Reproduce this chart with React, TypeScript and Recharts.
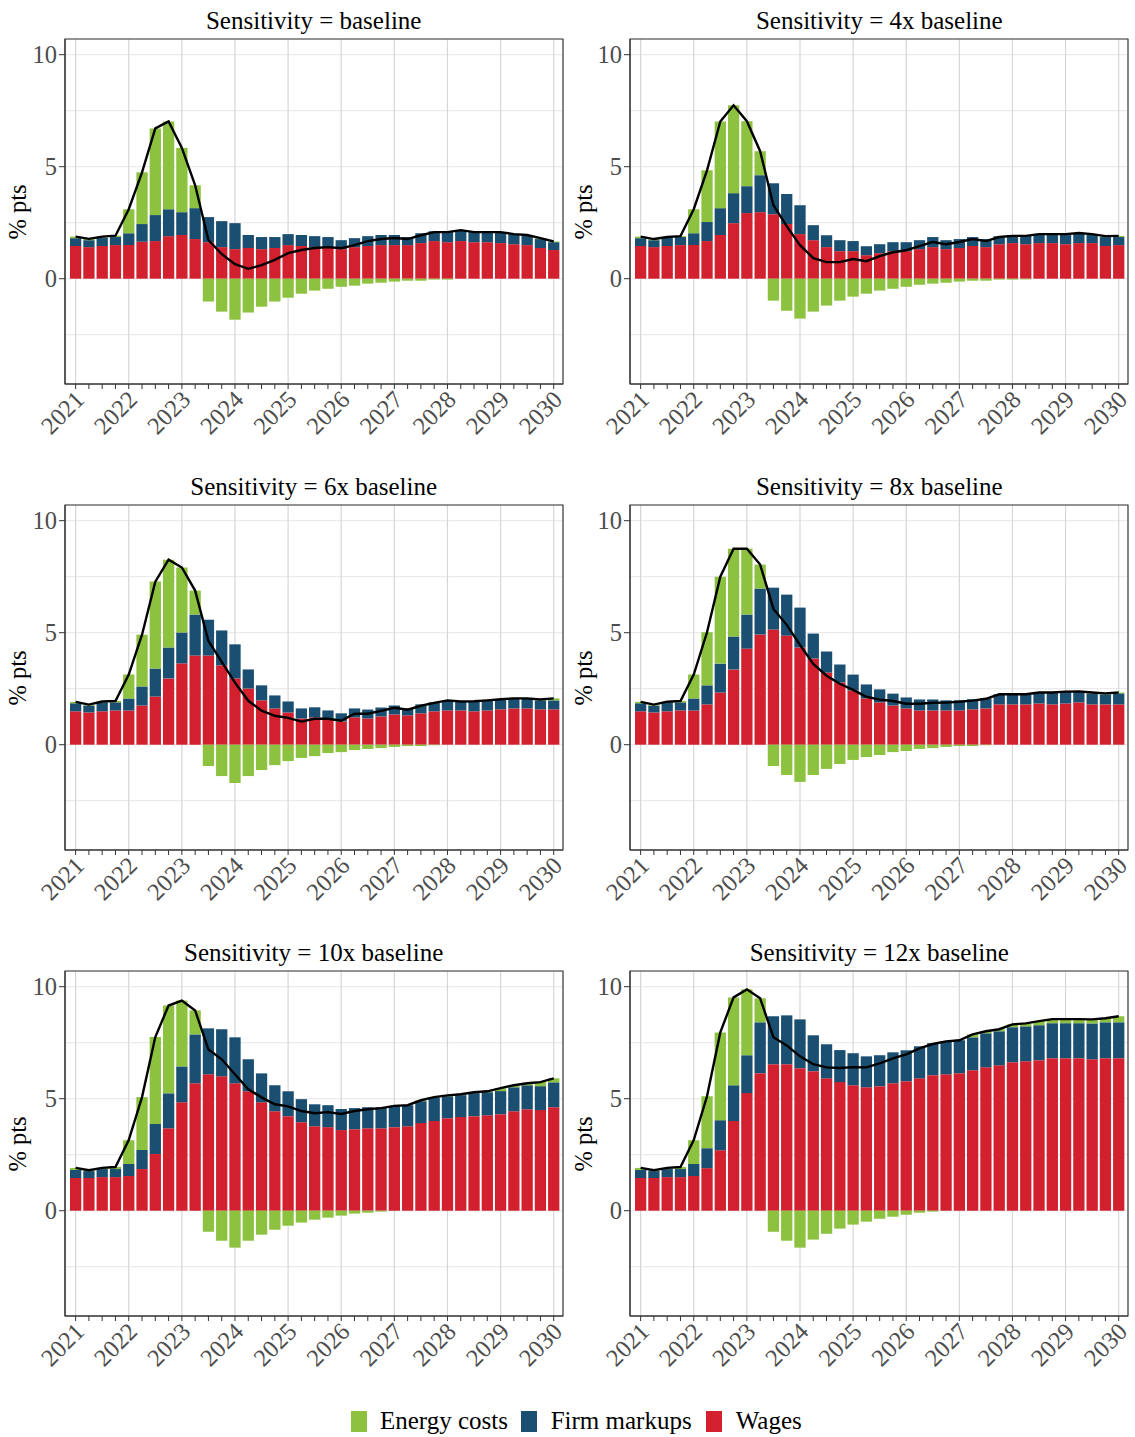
import React from "react";
import {
  Bar,
  CartesianGrid,
  ComposedChart,
  Line,
  ReferenceArea,
  XAxis,
  YAxis,
} from "recharts";

const quarters = [
  "2021Q1", "2021Q2", "2021Q3", "2021Q4", "2022Q1", "2022Q2", "2022Q3", "2022Q4",
  "2023Q1", "2023Q2", "2023Q3", "2023Q4", "2024Q1", "2024Q2", "2024Q3", "2024Q4",
  "2025Q1", "2025Q2", "2025Q3", "2025Q4", "2026Q1", "2026Q2", "2026Q3", "2026Q4",
  "2027Q1", "2027Q2", "2027Q3", "2027Q4", "2028Q1", "2028Q2", "2028Q3", "2028Q4",
  "2029Q1", "2029Q2", "2029Q3", "2029Q4", "2030Q1",
];

// baseline
const wagesBase = [1.46, 1.41, 1.46, 1.5, 1.5, 1.65, 1.68, 1.9, 1.95, 1.77, 1.63, 1.41, 1.32, 1.37, 1.32, 1.37, 1.5, 1.46, 1.41, 1.41, 1.32, 1.41, 1.46, 1.5, 1.5, 1.5, 1.59, 1.68, 1.63, 1.68, 1.63, 1.63, 1.59, 1.54, 1.5, 1.37, 1.28];
const markupsBase = [0.35, 0.31, 0.37, 0.36, 0.53, 0.79, 1.16, 1.2, 1.02, 1.38, 1.12, 1.16, 1.16, 0.58, 0.54, 0.49, 0.49, 0.49, 0.49, 0.45, 0.4, 0.4, 0.44, 0.45, 0.45, 0.36, 0.44, 0.44, 0.49, 0.49, 0.45, 0.45, 0.49, 0.45, 0.45, 0.4, 0.35];
const energyBase = [0.07, 0.06, 0.05, 0.06, 1.07, 2.31, 3.87, 3.92, 2.87, 1.02, -1.02, -1.47, -1.83, -1.51, -1.25, -1.02, -0.85, -0.67, -0.53, -0.45, -0.36, -0.31, -0.22, -0.18, -0.13, -0.09, -0.09, -0.04, -0.04, 0, 0, 0, 0, 0, 0, 0.04, 0.03];

// 4x
const wages4x = [1.46, 1.41, 1.46, 1.5, 1.5, 1.68, 1.95, 2.48, 2.93, 2.97, 2.88, 2.44, 1.99, 1.72, 1.41, 1.23, 1.23, 1.05, 1.14, 1.23, 1.23, 1.32, 1.41, 1.32, 1.37, 1.46, 1.41, 1.54, 1.59, 1.54, 1.59, 1.59, 1.54, 1.59, 1.59, 1.46, 1.5];
const markups4x = [0.35, 0.31, 0.36, 0.36, 0.53, 0.85, 1.2, 1.34, 1.2, 1.65, 1.38, 1.34, 1.29, 0.67, 0.53, 0.49, 0.45, 0.4, 0.4, 0.4, 0.4, 0.4, 0.45, 0.4, 0.4, 0.4, 0.36, 0.36, 0.36, 0.4, 0.4, 0.4, 0.45, 0.45, 0.4, 0.4, 0.36];
const energy4x = [0.07, 0.05, 0.04, 0.04, 1.07, 2.31, 3.87, 3.92, 2.9, 1.07, -0.98, -1.43, -1.78, -1.47, -1.2, -0.98, -0.8, -0.67, -0.53, -0.45, -0.36, -0.27, -0.22, -0.18, -0.13, -0.09, -0.09, -0.04, -0.04, -0.03, 0, 0, 0, 0, 0, 0.04, 0.05];

// 6x
const wages6x = [1.49, 1.44, 1.49, 1.53, 1.53, 1.75, 2.15, 2.96, 3.63, 3.98, 3.98, 3.54, 2.96, 2.51, 1.98, 1.62, 1.44, 1.17, 1.22, 1.13, 1.04, 1.22, 1.17, 1.26, 1.35, 1.31, 1.4, 1.49, 1.53, 1.53, 1.49, 1.53, 1.58, 1.62, 1.62, 1.58, 1.58];
const markups6x = [0.36, 0.31, 0.4, 0.36, 0.53, 0.85, 1.25, 1.38, 1.38, 1.83, 1.6, 1.56, 1.52, 0.85, 0.67, 0.58, 0.49, 0.45, 0.45, 0.4, 0.36, 0.4, 0.4, 0.4, 0.4, 0.31, 0.4, 0.4, 0.45, 0.4, 0.45, 0.45, 0.45, 0.45, 0.45, 0.4, 0.4];
const energy6x = [0.06, 0.04, 0.04, 0.06, 1.07, 2.31, 3.88, 3.92, 2.9, 1.07, -0.95, -1.4, -1.71, -1.4, -1.13, -0.91, -0.73, -0.59, -0.51, -0.37, -0.33, -0.24, -0.19, -0.15, -0.1, -0.06, -0.06, -0.02, 0, 0, 0, 0, 0, 0, 0, 0.04, 0.09];

// 8x
const wages8x = [1.49, 1.44, 1.49, 1.53, 1.53, 1.8, 2.33, 3.36, 4.29, 4.92, 5.14, 4.87, 4.34, 3.85, 3.22, 2.78, 2.42, 2.07, 1.89, 1.75, 1.62, 1.53, 1.53, 1.53, 1.53, 1.58, 1.62, 1.8, 1.8, 1.8, 1.84, 1.8, 1.84, 1.89, 1.8, 1.8, 1.8];
const markups8x = [0.36, 0.31, 0.4, 0.36, 0.53, 0.85, 1.29, 1.47, 1.52, 2.05, 1.87, 1.83, 1.78, 1.11, 0.94, 0.8, 0.71, 0.62, 0.58, 0.53, 0.49, 0.49, 0.49, 0.45, 0.45, 0.45, 0.45, 0.45, 0.45, 0.45, 0.49, 0.53, 0.53, 0.49, 0.49, 0.45, 0.49];
const energy8x = [0.06, 0.04, 0.03, 0.06, 1.07, 2.37, 3.88, 3.92, 2.94, 1.07, -0.95, -1.35, -1.66, -1.35, -1.08, -0.86, -0.68, -0.55, -0.46, -0.33, -0.28, -0.19, -0.15, -0.1, -0.06, -0.06, -0.02, 0, 0, 0, 0, 0, 0, 0, 0.04, 0.04, 0.04];

// 10x
const wages10x = [1.46, 1.46, 1.5, 1.5, 1.55, 1.86, 2.53, 3.68, 4.84, 5.69, 6.09, 6.0, 5.69, 5.33, 4.84, 4.44, 4.22, 3.95, 3.77, 3.73, 3.6, 3.64, 3.68, 3.68, 3.73, 3.77, 3.91, 4.0, 4.13, 4.18, 4.22, 4.26, 4.31, 4.44, 4.53, 4.49, 4.62];
const markups10x = [0.36, 0.31, 0.36, 0.36, 0.53, 0.85, 1.34, 1.56, 1.6, 2.18, 2.05, 2.1, 2.05, 1.43, 1.29, 1.16, 1.11, 1.03, 0.98, 0.98, 0.94, 0.94, 0.94, 0.94, 0.94, 0.94, 0.98, 1.03, 0.98, 0.98, 1.03, 1.03, 1.03, 1.07, 1.07, 1.07, 1.11];
const energy10x = [0.09, 0.04, 0.05, 0.09, 1.07, 2.36, 3.88, 3.92, 2.94, 1.07, -0.94, -1.34, -1.65, -1.34, -1.07, -0.85, -0.67, -0.53, -0.4, -0.31, -0.22, -0.13, -0.09, -0.04, 0.01, 0, 0.04, 0.04, 0.04, 0.04, 0.04, 0.04, 0.13, 0.09, 0.09, 0.18, 0.18];

// 12x
const wages12x = [1.46, 1.46, 1.5, 1.5, 1.55, 1.9, 2.7, 4.0, 5.25, 6.14, 6.54, 6.54, 6.36, 6.23, 5.91, 5.74, 5.6, 5.51, 5.56, 5.69, 5.78, 5.91, 6.05, 6.09, 6.14, 6.27, 6.4, 6.49, 6.63, 6.67, 6.72, 6.81, 6.81, 6.81, 6.76, 6.81, 6.81];
const markups12x = [0.36, 0.31, 0.36, 0.36, 0.53, 0.89, 1.34, 1.6, 1.69, 2.27, 2.14, 2.18, 2.18, 1.6, 1.52, 1.43, 1.43, 1.38, 1.38, 1.38, 1.38, 1.43, 1.43, 1.47, 1.47, 1.47, 1.52, 1.52, 1.56, 1.56, 1.56, 1.56, 1.56, 1.56, 1.6, 1.6, 1.6];
const energy12x = [0.09, 0.04, 0.05, 0.09, 1.07, 2.32, 3.92, 3.92, 2.94, 1.07, -0.94, -1.34, -1.65, -1.29, -1.03, -0.8, -0.62, -0.49, -0.36, -0.27, -0.18, -0.09, -0.04, 0, 0, 0.13, 0.09, 0.09, 0.13, 0.13, 0.18, 0.18, 0.18, 0.18, 0.18, 0.18, 0.27];

const panelTitles = [
  "Sensitivity = baseline",
  "Sensitivity = 4x baseline",
  "Sensitivity = 6x baseline",
  "Sensitivity = 8x baseline",
  "Sensitivity = 10x baseline",
  "Sensitivity = 12x baseline",
];

const yTicks = [0, 5, 10];
const yGridTicks = [-2.5, 0, 2.5, 5, 7.5, 10];

const GREEN = "#8cc23f";
const BLUE = "#1b4f72";
const RED = "#d2202f";
const FONT = "'Liberation Serif', 'Times New Roman', serif";

const panels = [
  { title: panelTitles[0], wages: wagesBase, markups: markupsBase, energy: energyBase },
  { title: panelTitles[1], wages: wages4x, markups: markups4x, energy: energy4x },
  { title: panelTitles[2], wages: wages6x, markups: markups6x, energy: energy6x },
  { title: panelTitles[3], wages: wages8x, markups: markups8x, energy: energy8x },
  { title: panelTitles[4], wages: wages10x, markups: markups10x, energy: energy10x },
  { title: panelTitles[5], wages: wages12x, markups: markups12x, energy: energy12x },
];

const PLOT_W = 498;
const PLOT_H = 345;
const COL_X = [64.7, 630.3];
const ROW_Y = [39.3, 505.3, 971];
const X_DOMAIN: [number, number] = [-0.8, 36.7];
const Y_DOMAIN: [number, number] = [-4.7, 10.7];

const qIdx = quarters.map((_, i) => i);
const yearIdx = qIdx.filter((i) => i % 4 === 0);

function XTick(props: any) {
  const { x, y, payload } = props;
  const i = payload.value;
  if (i % 4 !== 0) return null;
  const ax = x + 10;
  const ay = y + 12;
  return (
    <text
      x={ax}
      y={ay}
      transform={`rotate(-45, ${ax}, ${ay})`}
      textAnchor="end"
      fontSize={24.5}
      fill="#4d4d4d"
      fontFamily={FONT}
    >
      {quarters[i].slice(0, 4)}
    </text>
  );
}

function Panel({ p, left, top }: { p: (typeof panels)[number]; left: number; top: number }) {
  const rows = quarters.map((q, i) => ({
    i,
    q,
    wages: p.wages[i],
    markups: p.markups[i],
    energy: p.energy[i],
    total: p.wages[i] + p.markups[i] + p.energy[i],
  }));

  return (
    <>
      <div
        style={{
          position: "absolute",
          left,
          top: top - 31,
          width: PLOT_W,
          textAlign: "center",
          fontSize: 25,
          lineHeight: "25px",
          fontFamily: FONT,
          color: "#000",
          whiteSpace: "nowrap",
        }}
      >
        {p.title}
      </div>
      <div
        style={{
          position: "absolute",
          left: left - 46.7 - 50,
          top: top + PLOT_H / 2 - 15,
          width: 100,
          height: 30,
          lineHeight: "30px",
          textAlign: "center",
          fontSize: 24.5,
          fontFamily: FONT,
          transform: "rotate(-90deg)",
        }}
      >
        % pts
      </div>
      <div style={{ position: "absolute", left: left - 60, top: top - 10 }}>
        <ComposedChart
          width={60 + PLOT_W + 6}
          height={10 + PLOT_H + 60}
          data={rows}
          stackOffset="sign"
          margin={{ top: 10, right: 6, bottom: 0, left: 0 }}
        >
          <CartesianGrid yAxisId="g" vertical={false} stroke="#ebebeb" strokeWidth={1.2} />
          <CartesianGrid xAxisId="g" horizontal={false} stroke="#d6d6d6" strokeWidth={1.2} />
          <XAxis
            dataKey="i"
            type="number"
            domain={X_DOMAIN}
            allowDataOverflow
            ticks={qIdx}
            interval={0}
            tickSize={5}
            tickMargin={0}
            height={60}
            axisLine={{ stroke: "#333" }}
            tickLine={{ stroke: "#333" }}
            tick={(t: any) => <XTick {...t} />}
          />
          <XAxis
            xAxisId="g"
            dataKey="i"
            type="number"
            domain={X_DOMAIN}
            allowDataOverflow
            ticks={yearIdx}
            interval={0}
            hide
          />
          <YAxis
            type="number"
            domain={Y_DOMAIN}
            allowDataOverflow
            ticks={yTicks}
            interval={0}
            width={60}
            tickSize={6}
            tickMargin={2}
            axisLine={{ stroke: "#333" }}
            tickLine={{ stroke: "#333" }}
            tick={{ fontSize: 24.5, fill: "#4d4d4d", fontFamily: FONT }}
          />
          <YAxis
            yAxisId="g"
            type="number"
            domain={Y_DOMAIN}
            allowDataOverflow
            ticks={yGridTicks}
            interval={0}
            hide
          />
          <Bar dataKey="wages" stackId="s" fill={RED} barSize={11.3} isAnimationActive={false} />
          <Bar dataKey="markups" stackId="s" fill={BLUE} barSize={11.3} isAnimationActive={false} />
          <Bar dataKey="energy" stackId="s" fill={GREEN} barSize={11.3} isAnimationActive={false} />
          <Line
            dataKey="total"
            type="linear"
            stroke="#000"
            strokeWidth={2.4}
            dot={false}
            isAnimationActive={false}
          />
          <ReferenceArea
            x1={X_DOMAIN[0]}
            x2={X_DOMAIN[1]}
            y1={Y_DOMAIN[0]}
            y2={Y_DOMAIN[1]}
            fill="none"
            stroke="#333"
            strokeWidth={1.1}
            ifOverflow="visible"
          />
        </ComposedChart>
      </div>
    </>
  );
}

const legendItems = [
  { label: "Energy costs", color: GREEN, sq: 351, tx: 380 },
  { label: "Firm markups", color: BLUE, sq: 521, tx: 550.7 },
  { label: "Wages", color: RED, sq: 706, tx: 735.7 },
];

export default function App() {
  return (
    <div
      style={{
        position: "absolute",
        left: 0,
        top: 0,
        width: 1135,
        height: 1437,
        background: "#fff",
        fontFamily: FONT,
        overflow: "hidden",
      }}
    >
      {panels.map((p, k) => (
        <Panel key={p.title} p={p} left={COL_X[k % 2]} top={ROW_Y[Math.floor(k / 2)]} />
      ))}
      {legendItems.map((it) => (
        <React.Fragment key={it.label}>
          <div
            style={{
              position: "absolute",
              left: it.sq,
              top: 1411,
              width: 16.3,
              height: 20.7,
              background: it.color,
            }}
          />
          <div
            style={{
              position: "absolute",
              left: it.tx,
              top: 1408.4,
              fontSize: 25,
              lineHeight: "25px",
              whiteSpace: "nowrap",
              color: "#000",
            }}
          >
            {it.label}
          </div>
        </React.Fragment>
      ))}
    </div>
  );
}
